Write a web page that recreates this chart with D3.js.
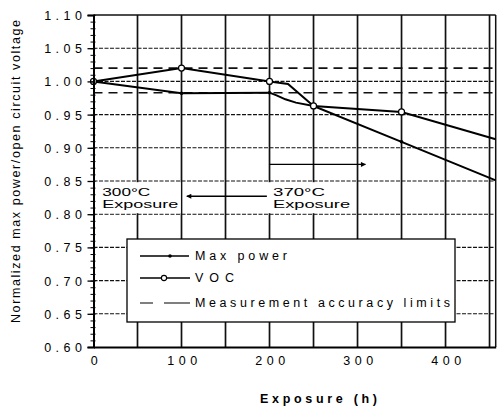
<!DOCTYPE html>
<html><head><meta charset="utf-8">
<script src="https://cdn.jsdelivr.net/npm/d3@7"></script>
<style>
body{margin:0;background:#fff;}
svg{display:block;font-family:"Liberation Sans",Arial,sans-serif;}
</style></head>
<body>
<svg id="c" width="497" height="406"></svg>
<script>
// ---- data ----
const maxPowerHours  = [0, 100, 200, 208, 218, 230, 250, 350, 457];
const maxPowerValues = [1.000, 0.982, 0.983, 0.979, 0.973, 0.968, 0.963, 0.909, 0.851];
const maxPowerMarkerHours = [0, 100, 200, 250, 350];

const vocHours  = [0, 100, 200, 221, 250, 350, 457];
const vocValues = [1.000, 1.020, 1.000, 0.996, 0.963, 0.954, 0.913];
const vocMarkerHours = [0, 100, 200, 250, 350];

const accuracyLimits = [1.020, 0.983];

const xTickValues = [0, 100, 200, 300, 400];
const xGridValues = [50, 100, 150, 200, 250, 300, 350, 400, 450];
const yTickValues = [0.60, 0.65, 0.70, 0.75, 0.80, 0.85, 0.90, 0.95, 1.00, 1.05, 1.10];
const yTickLabels = ["0.60","0.65","0.70","0.75","0.80","0.85","0.90","0.95","1.00","1.05","1.10"];

const legendLabels = ["Max power", "VOC", "Measurement accuracy limits"];
const annotations = [
  {lines: ["300\u00B0C", "Exposure"], h: 10},
  {lines: ["370\u00B0C", "Exposure"], h: 204}
];
const arrows = [
  {from: 197, to: 106, v: 0.827},
  {from: 200, to: 309, v: 0.875}
];

// ---- layout ----
const L = 93.5, R = 495.7, T = 15, B = 347;
const x = d3.scaleLinear().domain([0, 457]).range([L, R]);
const y = d3.scaleLinear().domain([0.60, 1.10]).range([B, T]);
const svg = d3.select("#c");

// gridlines
svg.append("g").selectAll("line").data(yTickValues.slice(1, -1)).join("line")
  .attr("x1", L).attr("x2", R).attr("y1", d => y(d)).attr("y2", d => y(d))
  .attr("stroke", "#111").attr("stroke-width", 1.1).attr("stroke-dasharray", "4,1.5");
svg.append("g").selectAll("line").data(xGridValues).join("line")
  .attr("x1", d => x(d)).attr("x2", d => x(d)).attr("y1", T).attr("y2", B)
  .attr("stroke", "#111").attr("stroke-width", 1.7);

// white backgrounds behind annotations
svg.append("g").selectAll("rect").data(annotations).join("rect")
  .attr("x", d => x(d.h) - 6.5).attr("y", y(0.85) + 1.2)
  .attr("width", 85).attr("height", y(0.80) - y(0.85) - 2.2)
  .attr("fill", "#fff");

// border
svg.append("line").attr("x1", L).attr("x2", R).attr("y1", T).attr("y2", T)
  .attr("stroke", "#111").attr("stroke-width", 1.5);
svg.append("line").attr("x1", R).attr("x2", R).attr("y1", T).attr("y2", B)
  .attr("stroke", "#111").attr("stroke-width", 1.5);

// accuracy limits
svg.append("g").selectAll("line").data(accuracyLimits).join("line")
  .attr("x1", L).attr("x2", R).attr("y1", d => y(d)).attr("y2", d => y(d))
  .attr("stroke", "#111").attr("stroke-width", 1.6).attr("stroke-dasharray", "9,6");

// series lines
const line = d3.line().x(d => x(d[0])).y(d => y(d[1]));
const mpData = maxPowerHours.map((h, i) => [h, maxPowerValues[i]]);
const vocData = vocHours.map((h, i) => [h, vocValues[i]]);
svg.append("path").datum(mpData).attr("d", line)
  .attr("fill", "none").attr("stroke", "#000").attr("stroke-width", 2);
svg.append("path").datum(vocData).attr("d", line)
  .attr("fill", "none").attr("stroke", "#000").attr("stroke-width", 2);

svg.append("g").selectAll("circle").data(maxPowerMarkerHours).join("circle")
  .attr("cx", h => x(h)).attr("cy", h => y(maxPowerValues[maxPowerHours.indexOf(h)]))
  .attr("r", 1.8).attr("fill", "#000");
svg.append("g").selectAll("circle").data(vocMarkerHours).join("circle")
  .attr("cx", h => x(h)).attr("cy", h => y(vocValues[vocHours.indexOf(h)]))
  .attr("r", 3).attr("fill", "#fff").attr("stroke", "#000").attr("stroke-width", 1.2);

// arrows
const defs = svg.append("defs");
defs.append("marker").attr("id", "ah").attr("viewBox", "0 0 10 10")
  .attr("refX", 9).attr("refY", 5).attr("markerWidth", 7).attr("markerHeight", 5)
  .attr("markerUnits", "userSpaceOnUse").attr("orient", "auto")
  .append("path").attr("d", "M0,0L10,5L0,10Z").attr("fill", "#000");
svg.append("g").selectAll("line").data(arrows).join("line")
  .attr("x1", d => x(d.from)).attr("x2", d => x(d.to))
  .attr("y1", d => y(d.v)).attr("y2", d => y(d.v))
  .attr("stroke", "#000").attr("stroke-width", 1.4).attr("marker-end", "url(#ah)");

// annotation text
const annW = [[48, 76], [52, 77]];
annotations.forEach((a, i) => {
  a.lines.forEach((t, j) => {
    svg.append("text").attr("x", x(a.h)).attr("y", j === 0 ? 196 : 208)
      .attr("font-size", 10.5).attr("fill", "#000")
      .attr("textLength", annW[i][j]).attr("lengthAdjust", "spacingAndGlyphs").text(t);
  });
});

// legend
const lg = svg.append("g");
lg.append("rect").attr("x", 127).attr("y", 239).attr("width", 328).attr("height", 83)
  .attr("fill", "#fff").attr("stroke", "#000").attr("stroke-width", 1.3);
const lgY = [256, 278, 303];
const lgTextY = [259.5, 282, 306.5];
const lgTextW = [92, 39, 255];
lg.append("line").attr("x1", 140).attr("x2", 189).attr("y1", lgY[0]).attr("y2", lgY[0])
  .attr("stroke", "#000").attr("stroke-width", 1.3);
lg.append("circle").attr("cx", 170).attr("cy", lgY[0]).attr("r", 1.8).attr("fill", "#000");
lg.append("line").attr("x1", 140).attr("x2", 190).attr("y1", lgY[1]).attr("y2", lgY[1])
  .attr("stroke", "#000").attr("stroke-width", 1.3);
lg.append("circle").attr("cx", 164).attr("cy", lgY[1]).attr("r", 2.6)
  .attr("fill", "#fff").attr("stroke", "#000").attr("stroke-width", 1.1);
lg.append("line").attr("x1", 140).attr("x2", 190).attr("y1", lgY[2]).attr("y2", lgY[2])
  .attr("stroke", "#000").attr("stroke-width", 1.1).attr("stroke-dasharray", "13,11,26");
legendLabels.forEach((t, i) => {
  lg.append("text").attr("x", 195).attr("y", lgTextY[i]).attr("font-size", 12.5)
    .attr("textLength", lgTextW[i]).attr("lengthAdjust", "spacing").text(t);
});

// axes
const yMinor = d3.axisLeft(y).ticks(50).tickSize(3).tickFormat("");
const gMinor = svg.append("g").attr("transform", `translate(${L},0)`).call(yMinor);
gMinor.select(".domain").remove();
gMinor.selectAll(".tick line").attr("x1", -3).attr("x2", 2).attr("stroke", "#000").attr("stroke-width", 1);

const yAxis = d3.axisLeft(y).tickValues(yTickValues).tickSize(6)
  .tickFormat((d, i) => yTickLabels[i]);
const gy = svg.append("g").attr("transform", `translate(${L},0)`).call(yAxis);
gy.select(".domain").attr("stroke", "#000").attr("stroke-width", 2);
gy.selectAll(".tick line").attr("stroke", "#000").attr("stroke-width", 1.3);
gy.selectAll(".tick text").attr("font-size", 12.5).attr("fill", "#000")
  .attr("font-family", '"Liberation Sans",Arial,sans-serif')
  .attr("letter-spacing", "4.5px").attr("x", -7).attr("dy", "0.36em");

const xAxis = d3.axisBottom(x).tickValues(xTickValues).tickSize(0).tickFormat(d3.format("d"));
const gx = svg.append("g").attr("transform", `translate(0,${B})`).call(xAxis);
gx.select(".domain").attr("stroke", "#000").attr("stroke-width", 2);
gx.selectAll(".tick text").attr("font-size", 12.5).attr("fill", "#000")
  .attr("font-family", '"Liberation Sans",Arial,sans-serif')
  .attr("letter-spacing", "4.5px").attr("x", 2.5).attr("y", 18).attr("dy", 0);

// axis titles
svg.append("text").attr("x", 260).attr("y", 403).attr("font-size", 12.5).attr("font-weight", "bold")
  .attr("textLength", 117).attr("lengthAdjust", "spacing").text("Exposure  (h)");
svg.append("text").attr("transform", "translate(20,323) rotate(-90)")
  .attr("font-size", 12.5).attr("textLength", 303).attr("lengthAdjust", "spacing")
  .text("Normalized max power/open circuit voltage");
</script>
</body></html>
